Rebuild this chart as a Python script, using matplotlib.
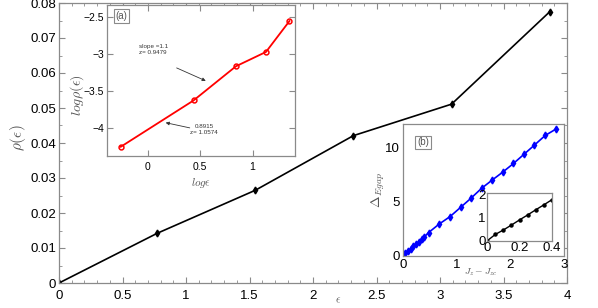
import matplotlib
matplotlib.use("Agg")
import matplotlib.pyplot as plt
from matplotlib.ticker import MultipleLocator, FuncFormatter

# ─── Data ───────────────────────────────────────────────────────────
eps      = [0.0, 0.773, 1.546, 2.318, 3.091, 3.864]
rho      = [0.0, 0.0142, 0.0265, 0.0421, 0.0511, 0.0775]

log_eps  = [-0.258, 0.436, 0.841, 1.128, 1.352]
log_rho  = [-4.255, -3.630, -3.168, -2.974, -2.557]

jz_b     = [0.0, 0.05, 0.1, 0.15, 0.2, 0.25, 0.3, 0.35, 0.4,
            0.48, 0.68, 0.88, 1.08, 1.27, 1.47, 1.67, 1.86,
            2.06, 2.26, 2.45, 2.65, 2.85]
gap_b    = [0.0, 0.27, 0.46, 0.67, 0.89, 1.10, 1.32, 1.53, 1.75,
            2.16, 2.96, 3.64, 4.51, 5.34, 6.27, 7.04, 7.75,
            8.55, 9.42, 10.25, 11.14, 11.73]

jz_c     = [0.0, 0.05, 0.1, 0.15, 0.2, 0.25, 0.3, 0.35, 0.4]
gap_c    = [0.0, 0.27, 0.46, 0.67, 0.89, 1.10, 1.32, 1.53, 1.75]

# ─── Style ──────────────────────────────────────────────────────────
plt.rcParams['font.family'] = ['Liberation Sans', 'DejaVu Sans']
plt.rcParams['mathtext.fontset'] = 'cm'
FRAME = '#8a8a8a'
LAB   = '#555555'
W, H  = 598, 308

def fmt(v, pos):
    s = '%g' % v
    return s.replace('-', '\u2212')

def style(ax, size):
    for sp in ax.spines.values():
        sp.set_color(FRAME)
        sp.set_linewidth(0.9)
    ax.tick_params(which='both', direction='in', top=True, right=True,
                   color=FRAME, labelsize=size, pad=2)
    ax.tick_params(which='major', length=4)
    ax.tick_params(which='minor', length=2)
    ax.xaxis.set_major_formatter(FuncFormatter(fmt))
    ax.yaxis.set_major_formatter(FuncFormatter(fmt))

def box(x0, y0, x1, y1):
    # pixel box -> figure fraction rect
    return [x0 / W, (H - y1) / H, (x1 - x0) / W, (y1 - y0) / H]

fig = plt.figure(figsize=(W / 100, H / 100), dpi=100)

# main panel
ax = fig.add_axes(box(59, 3, 567, 283))
ax.plot(eps, rho, color='black', lw=1.2, marker='d', ms=3.5)
ax.set_xlim(0, 4)
ax.set_ylim(0, 0.08)
ax.xaxis.set_major_locator(MultipleLocator(0.5))
ax.xaxis.set_minor_locator(MultipleLocator(0.1))
ax.yaxis.set_major_locator(MultipleLocator(0.01))
ax.yaxis.set_minor_locator(MultipleLocator(0.005))
style(ax, 9.5)
ax.tick_params(axis='x', pad=5)
fig.text(18 / W, 1 - 138 / H, r'$\rho(\epsilon)$', rotation=90, fontsize=11,
         color=LAB, ha='center', va='center')
fig.text(338 / W, 1 - 300 / H, r'$\epsilon$', fontsize=8, color=LAB,
         ha='center', va='center')

# inset (a)
axa = fig.add_axes(box(107, 5, 295, 156))
axa.plot(log_eps, log_rho, color='red', lw=1.3, marker='o', ms=3.5,
         mfc='none', mew=1.1)
axa.set_xlim(-0.39, 1.405)
axa.set_ylim(-4.38, -2.34)
axa.xaxis.set_major_locator(MultipleLocator(0.5))
axa.yaxis.set_major_locator(MultipleLocator(0.5))
style(axa, 7.5)
axa.tick_params(axis='x', pad=4)
axa.text(0.045, 0.93, '(a)', transform=axa.transAxes, fontsize=7,
         color=LAB, va='center',
         bbox=dict(boxstyle='square,pad=0.2', fc='white', ec=FRAME, lw=0.8))
axa.set_xlabel(r'$log\epsilon$', fontsize=8, color=LAB, labelpad=3)
fig.text(77 / W, 1 - 95 / H, r'$log\rho(\epsilon)$', rotation=90, fontsize=10,
         color=LAB, ha='center', va='center')

arrow = dict(arrowstyle='-|>', color='#333333', lw=0.6,
             mutation_scale=5, shrinkA=0, shrinkB=0)
axa.text(-0.08, -2.87, 'slope =1.1\nz= 0.9479', fontsize=4.5,
         color='#333333', linespacing=1.3, va='top', ha='left')
axa.annotate('', xy=(0.553, -3.365), xytext=(0.275, -3.19),
             arrowprops=arrow)
axa.text(0.535, -3.95, '0.8915\nz= 1.0574', fontsize=4.5,
         color='#333333', linespacing=1.3, va='top', ha='center',
         multialignment='center')
axa.annotate('', xy=(0.17, -3.93), xytext=(0.40, -4.0),
             arrowprops=arrow)

# inset (b)
axb = fig.add_axes(box(402.7, 124, 564, 256))
axb.plot(jz_b, gap_b, color='blue', lw=1.2, marker='d', ms=3.5)
axb.set_xlim(0, 3)
axb.set_ylim(0, 12.2)
axb.xaxis.set_major_locator(MultipleLocator(1))
axb.yaxis.set_major_locator(MultipleLocator(5))
style(axb, 9.5)
axb.tick_params(which='both', top=False, right=False, length=0)
axb.text(0.09, 0.86, '(b)', transform=axb.transAxes, fontsize=7,
         color=LAB, va='center',
         bbox=dict(boxstyle='square,pad=0.2', fc='white', ec=FRAME, lw=0.8))
fig.text(378 / W, 1 - 190 / H, r'$\Delta_{Egap}$', rotation=90, fontsize=10,
         color=LAB, ha='center', va='center')
fig.text(481 / W, 1 - 272 / H, r'$J_z-J_{zc}$', fontsize=7, color=LAB,
         ha='center', va='center')

# inset inside (b)
axc = fig.add_axes(box(487.3, 193.3, 551.7, 240.7))
axc.plot(jz_c, gap_c, color='black', lw=1.0, marker='o', ms=2.2)
axc.set_xlim(0, 0.4)
axc.set_ylim(0, 2.03)
axc.xaxis.set_major_locator(MultipleLocator(0.2))
axc.yaxis.set_major_locator(MultipleLocator(1))
style(axc, 9.5)
axc.tick_params(which='both', top=False, right=False, length=0, pad=1)

fig.savefig('out.png', dpi=100)
